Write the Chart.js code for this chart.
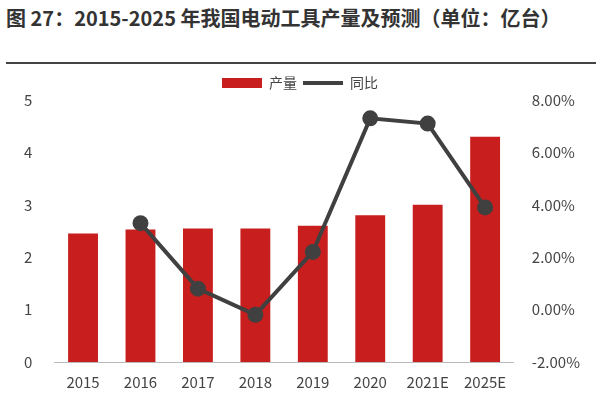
<!DOCTYPE html>
<html><head><meta charset="utf-8">
<script src="https://cdn.jsdelivr.net/npm/chart.js@4"></script>
<style>
body{margin:0;width:600px;height:400px;background:#fff;font-family:"Noto Sans CJK SC","Noto Sans",sans-serif;}
#t{position:absolute;left:6px;top:4px;width:582px;font-size:20px;font-weight:bold;color:#333;line-height:27px;}
#rule{position:absolute;left:6px;top:62px;width:590px;height:2px;background:#444;}
#w{position:absolute;left:0;top:70px;width:600px;height:326px;}
</style></head><body>
<div id="t">图 27：2015-2025 年我国电动工具产量及预测（单位：亿台）</div>
<div id="rule"></div>
<div id="w"><canvas id="c"></canvas></div>
<script>
const categories=["2015","2016","2017","2018","2019","2020","2021E","2025E"];
const output=[2.45,2.53,2.55,2.55,2.6,2.8,3.0,4.3];
const yoy=[null,3.3,0.8,-0.2,2.2,7.3,7.1,3.9];
const f='"Noto Sans CJK SC","Noto Sans",sans-serif';
new Chart(document.getElementById('c'),{
 data:{labels:categories,datasets:[
  {type:'line',label:'同比',data:yoy,yAxisID:'y1',borderColor:'#404040',backgroundColor:'#404040',borderWidth:4,pointRadius:6,pointBackgroundColor:'#404040',order:0},
  {type:'bar',label:'产量',data:output,yAxisID:'y',backgroundColor:'#c81e1e',barPercentage:0.52,categoryPercentage:1,order:1}
 ]},
 options:{responsive:true,maintainAspectRatio:false,animation:false,
  layout:{padding:{left:10,right:10,bottom:2}},
  plugins:{legend:{reverse:true,labels:{font:{family:f,size:14},color:'#444',usePointStyle:true,pointStyleWidth:40,boxHeight:10,padding:6,
    generateLabels:(ch)=>{const it=Chart.defaults.plugins.legend.labels.generateLabels(ch);it.forEach(i=>{if(i.text==='同比'){i.pointStyle='line';i.lineWidth=4;i.strokeStyle='#404040';}else{i.pointStyle='rect';i.lineWidth=0;}});return it;}}},tooltip:{enabled:false}},
  scales:{
   x:{grid:{display:false},border:{color:'#bbb'},ticks:{font:{family:f,size:15},color:'#444'}},
   y:{min:0,max:5,ticks:{stepSize:1,font:{family:f,size:15},color:'#444',padding:14},grid:{display:false},border:{display:false}},
   y1:{position:'right',min:-2,max:8,ticks:{stepSize:2,font:{family:f,size:15},color:'#444',padding:10,callback:v=>v.toFixed(2)+'%'},grid:{display:false},border:{display:false}}
  }}
});
</script></body></html>
